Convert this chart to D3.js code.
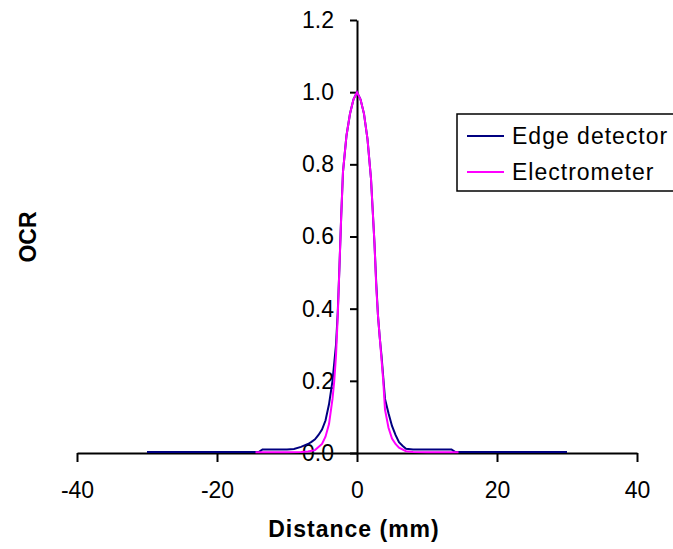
<!DOCTYPE html>
<html>
<head>
<meta charset="utf-8">
<script src="https://cdn.jsdelivr.net/npm/d3@7/dist/d3.min.js"></script>
<style>
  html, body { margin: 0; padding: 0; background: #fff; }
  svg { display: block; font-family: "Liberation Sans", Arial, sans-serif; }
</style>
</head>
<body>
<svg id="chart" width="673" height="549"></svg>
<script>
// ---- data ----
const xTicks = [-40, -20, 0, 20, 40];
const yTicks = [0, 0.2, 0.4, 0.6, 0.8, 1.0, 1.2];
const seriesNames = ["Edge detector", "Electrometer"];
const seriesColors = ["#000080", "#ff00ff"];

const edgeDist = [-30, -20, -14, -13.5, -10, -9, -8, -7, -6.5, -6, -5.5, -5, -4.5, -4, -3.5, -3.25, -3, -2.75, -2.5, -2.25, -2, -1.5, -1, -0.5, 0, 0.5, 1, 1.5, 2, 2.5, 2.75, 3, 3.25, 3.5, 3.75, 4, 4.5, 5, 5.5, 6, 6.5, 7, 8, 10, 13.5, 14, 20, 30];
const edgeOCR = [0.003, 0.003, 0.003, 0.01, 0.01, 0.011, 0.017, 0.025, 0.031, 0.038, 0.05, 0.065, 0.09, 0.135, 0.2, 0.25, 0.3, 0.39, 0.52, 0.66, 0.78, 0.88, 0.94, 0.98, 1.0, 0.98, 0.94, 0.87, 0.76, 0.58, 0.47, 0.38, 0.32, 0.27, 0.21, 0.15, 0.11, 0.075, 0.05, 0.03, 0.02, 0.012, 0.01, 0.01, 0.01, 0.003, 0.003, 0.003];

const elecDist = [-14.5, -10, -8, -7, -6, -5, -4.5, -4, -3.5, -3.25, -3, -2.75, -2.5, -2.25, -2, -1.5, -1, -0.5, 0, 0.5, 1, 1.5, 2, 2.5, 2.75, 3, 3.5, 3.75, 4, 4.5, 5, 5.5, 6, 7, 8, 10, 14.5];
const elecOCR = [0.002, 0.002, 0.003, 0.004, 0.008, 0.025, 0.045, 0.08, 0.15, 0.2, 0.27, 0.38, 0.52, 0.66, 0.78, 0.88, 0.94, 0.98, 1.0, 0.98, 0.94, 0.87, 0.76, 0.58, 0.46, 0.38, 0.26, 0.2, 0.12, 0.07, 0.04, 0.025, 0.015, 0.005, 0.003, 0.002, 0.002];

// ---- chart ----
const svg = d3.select("#chart");
const x = d3.scaleLinear().domain([-40, 40]).range([77, 637]);
const y = d3.scaleLinear().domain([0, 1.2]).range([453, 20]);

const series = [
  { name: seriesNames[0], color: seriesColors[0], pts: edgeDist.map((d, i) => [d, edgeOCR[i]]) },
  { name: seriesNames[1], color: seriesColors[1], pts: elecDist.map((d, i) => [d, elecOCR[i]]) }
];

const line = d3.line().x(d => x(d[0])).y(d => y(d[1]));

// axes
const xAxis = svg.append("g")
  .attr("transform", `translate(0,${y(0)})`)
  .call(d3.axisBottom(x).tickValues(xTicks).tickFormat(d => String(d)).tickSize(9).tickSizeOuter(0).tickPadding(20));
const yAxis = svg.append("g")
  .attr("transform", `translate(${x(0)},0)`)
  .call(d3.axisLeft(y).tickValues(yTicks).tickFormat(d3.format(".1f")).tickSize(7).tickSizeOuter(0).tickPadding(16));

[xAxis, yAxis].forEach(g => {
  g.selectAll("path.domain").attr("stroke", "#000").attr("stroke-width", 2);
  g.selectAll(".tick line").attr("stroke", "#000").attr("stroke-width", 2);
  g.selectAll(".tick text").attr("fill", "#000").style("font-size", "23px")
    .style("font-family", "'Liberation Sans', Arial, sans-serif");
});

// series
series.forEach(s => {
  svg.append("path")
    .datum(s.pts)
    .attr("fill", "none")
    .attr("stroke", s.color)
    .attr("stroke-width", 2)
    .attr("d", line);
});

// axis titles
svg.append("text")
  .attr("x", 354).attr("y", 537)
  .attr("text-anchor", "middle")
  .style("font-size", "23px").style("font-weight", "bold").style("letter-spacing", "1px")
  .text("Distance (mm)");
svg.append("text")
  .attr("transform", "translate(36,237) rotate(-90)")
  .attr("text-anchor", "middle")
  .style("font-size", "23px").style("font-weight", "bold")
  .text("OCR");

// legend
const lg = svg.append("g");
lg.append("rect")
  .attr("x", 457).attr("y", 114).attr("width", 260).attr("height", 77)
  .attr("fill", "#fff").attr("stroke", "#000").attr("stroke-width", 1.5);
series.forEach((s, i) => {
  const yy = 136 + i * 36;
  lg.append("line").attr("x1", 467).attr("x2", 504).attr("y1", yy).attr("y2", yy)
    .attr("stroke", s.color).attr("stroke-width", 2);
  lg.append("text").attr("x", 512).attr("y", yy).attr("dy", "0.35em")
    .style("font-size", "23px").style("letter-spacing", "1px").text(s.name);
});
</script>
</body>
</html>
